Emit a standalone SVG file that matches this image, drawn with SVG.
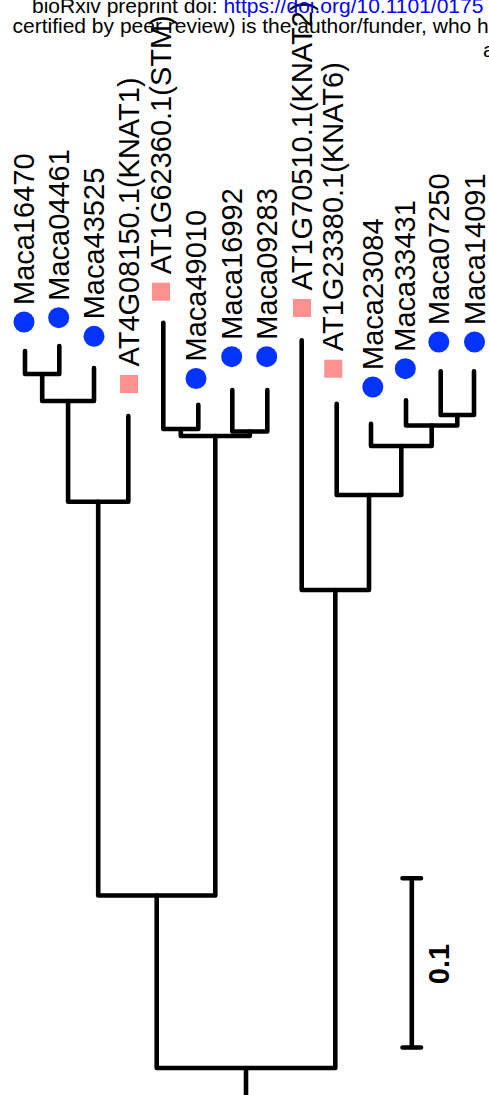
<svg xmlns="http://www.w3.org/2000/svg" width="489" height="1095" viewBox="0 0 489 1095">
<style>
.edge path{fill:none;stroke:#000;stroke-width:4.6;stroke-linecap:round;stroke-linejoin:round}
.lbl{font-family:"Liberation Sans",Arial,Helvetica,sans-serif;font-size:29px;fill:#000}
.dot{fill:#0433ff}
.sq{fill:#fd9190}
.hdr{font-family:"Liberation Sans",Arial,Helvetica,sans-serif;font-size:21px;fill:#000}
</style>
<rect width="489" height="1095" fill="#fff"/>
<g id="connectors" class="edge">
<path d="M25,351 V374 H59.3 V346"/>
<path d="M42.2,374 V401 H94 V368"/>
<path d="M68.1,401 V501.7 H128.3 V416"/>
<path d="M163.3,322.7 V429 H198.3 V404.7"/>
<path d="M232.3,390 V431.5 H267.3 V390"/>
<path d="M180.8,429 V436 H249.8 V431.5"/>
<path d="M98.2,501.7 V895.5 H215.3 V436"/>
<path d="M440.7,371.3 V415 H474 V371.3"/>
<path d="M406,400.3 V425.5 H457.3 V415"/>
<path d="M371,423.7 V446 H431.7 V425.5"/>
<path d="M336.7,403.7 V495 H401.3 V446"/>
<path d="M301.7,340.3 V590 H369 V495"/>
<path d="M156.7,895.5 V1068 H335.3 V590"/>
<path d="M246,1068 V1095"/>
</g>
<g id="tip-Maca16470"><circle class="dot" cx="24" cy="322" r="10.5"/><text class="lbl" transform="translate(34,305) rotate(-90)">Maca16470</text></g>
<g id="tip-Maca04461"><circle class="dot" cx="58.7" cy="317.7" r="10.5"/><text class="lbl" transform="translate(68.7,300.7) rotate(-90)">Maca04461</text></g>
<g id="tip-Maca43525"><circle class="dot" cx="94" cy="336.3" r="10.5"/><text class="lbl" transform="translate(104,319.3) rotate(-90)">Maca43525</text></g>
<g id="tip-AT4G08150"><rect class="sq" x="120" y="375" width="18" height="18"/><text class="lbl" transform="translate(139,366.5) rotate(-90)">AT4G08150.1(KNAT1)</text></g>
<g id="tip-AT1G62360"><rect class="sq" x="152" y="282.7" width="18" height="18"/><text class="lbl" transform="translate(171,274.2) rotate(-90)">AT1G62360.1(STM)</text></g>
<g id="tip-Maca49010"><circle class="dot" cx="196" cy="378.5" r="10.5"/><text class="lbl" transform="translate(206,361.5) rotate(-90)">Maca49010</text></g>
<g id="tip-Maca16992"><circle class="dot" cx="231.7" cy="356.7" r="10.5"/><text class="lbl" transform="translate(241.7,339.7) rotate(-90)">Maca16992</text></g>
<g id="tip-Maca09283"><circle class="dot" cx="266.7" cy="356.7" r="10.5"/><text class="lbl" transform="translate(276.7,339.7) rotate(-90)">Maca09283</text></g>
<g id="tip-AT1G70510"><rect class="sq" x="293" y="299" width="18" height="18"/><text class="lbl" transform="translate(312,290.5) rotate(-90)">AT1G70510.1(KNAT2)</text></g>
<g id="tip-AT1G23380"><rect class="sq" x="324.3" y="359.7" width="18" height="18"/><text class="lbl" transform="translate(343.3,351.2) rotate(-90)">AT1G23380.1(KNAT6)</text></g>
<g id="tip-Maca23084"><circle class="dot" cx="372.8" cy="387" r="10.5"/><text class="lbl" transform="translate(382.8,370) rotate(-90)">Maca23084</text></g>
<g id="tip-Maca33431"><circle class="dot" cx="405.3" cy="368.7" r="10.5"/><text class="lbl" transform="translate(415.3,351.7) rotate(-90)">Maca33431</text></g>
<g id="tip-Maca07250"><circle class="dot" cx="438.8" cy="342" r="10.5"/><text class="lbl" transform="translate(448.8,325) rotate(-90)">Maca07250</text></g>
<g id="tip-Maca14091"><circle class="dot" cx="474.5" cy="342" r="10.5"/><text class="lbl" transform="translate(484.5,325) rotate(-90)">Maca14091</text></g>
<g id="scale-bar" class="edge">
<path d="M411.8,878.2 V1047.5 M402.5,878.2 H421 M402.5,1047.5 H421"/>
<text class="lbl" font-weight="bold" text-anchor="middle" transform="translate(448.5,964) rotate(-90)">0.1</text>
</g>
<g id="header">
<text class="hdr" x="32" y="12.7">bioRxiv preprint doi: <tspan fill="#0000ff">https://doi.org/10.1101/0175</tspan></text>
<text class="hdr" x="12.5" y="33.3">certified by peer review) is the author/funder, who h</text>
<text class="hdr" x="483" y="57">a</text>
</g>
</svg>
